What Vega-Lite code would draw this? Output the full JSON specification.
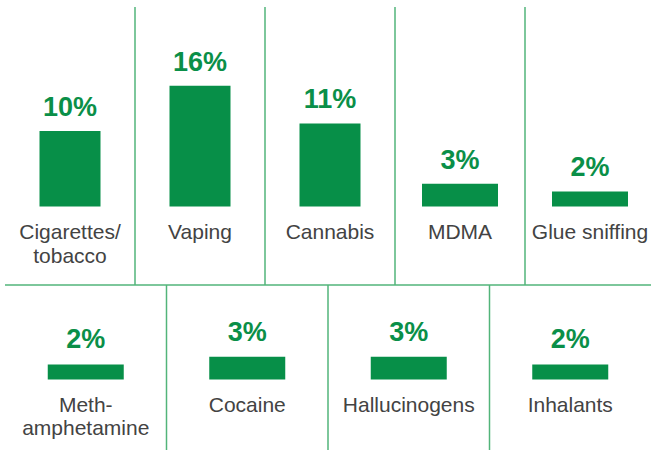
{
  "$schema": "https://vega.github.io/schema/vega-lite/v6.json",
  "padding": {"left": 4, "right": -3, "top": 0, "bottom": 0},
  "spacing": 0,
  "bounds": "flush",
  "config": {"view": {"stroke": null}},
  "vconcat": [
    {
      "width": 650,
      "height": 285,
      "data": {"values": [
        {"cat": "Cigarettes/tobacco", "label": "Cigarettes/\ntobacco", "pct": 10},
        {"cat": "Vaping", "label": "Vaping", "pct": 16},
        {"cat": "Cannabis", "label": "Cannabis", "pct": 11},
        {"cat": "MDMA", "label": "MDMA", "pct": 3},
        {"cat": "Glue sniffing", "label": "Glue sniffing", "pct": 2}
      ]},
      "transform": [{"calculate": "format(datum.pct, '.0f') + '%'", "as": "pctText"}],
      "encoding": {
        "y": {"type": "quantitative", "axis": null,
              "scale": {"domain": [-10.4, 27.35], "nice": false, "zero": false}}
      },
      "layer": [
        {
          "transform": [{"filter": {"field": "cat", "oneOf": ["Cigarettes/tobacco", "Vaping", "Cannabis"]}}],
          "mark": {"type": "bar", "width": 61, "color": "#078f48"},
          "encoding": {
            "x": {"field": "cat", "type": "nominal", "sort": null, "axis": null,
                  "scale": {"domain": ["Cigarettes/tobacco", "Vaping", "Cannabis", "MDMA", "Glue sniffing"], "paddingInner": 0, "paddingOuter": 0}},
            "y": {"field": "pct", "type": "quantitative"}, "y2": {"datum": 0}}
        },
        {
          "transform": [{"filter": {"field": "cat", "oneOf": ["MDMA", "Glue sniffing"]}}],
          "mark": {"type": "bar", "width": 76, "color": "#078f48"},
          "encoding": {
            "x": {"field": "cat", "type": "nominal", "sort": null},
            "y": {"field": "pct", "type": "quantitative"}, "y2": {"datum": 0}}
        },
        {
          "mark": {"type": "text", "font": "Liberation Sans", "fontWeight": "bold", "fontSize": 27,
                   "color": "#0a8f48", "baseline": "alphabetic", "dy": -15},
          "encoding": {
            "x": {"field": "cat", "type": "nominal", "sort": null},
            "y": {"field": "pct", "type": "quantitative"},
            "text": {"field": "pctText", "type": "nominal"}}
        },
        {
          "mark": {"type": "text", "font": "Liberation Sans", "fontSize": 21, "color": "#434343",
                   "baseline": "alphabetic", "dy": 33, "lineBreak": "\n", "lineHeight": 24},
          "encoding": {
            "x": {"field": "cat", "type": "nominal", "sort": null},
            "y": {"datum": 0}, "text": {"field": "label"}}
        },
        {
          "transform": [{"filter": {"not": {"field": "cat", "equal": "Cigarettes/tobacco"}}}],
          "mark": {"type": "rule", "color": "#52b47a", "strokeWidth": 1.5},
          "encoding": {
            "x": {"field": "cat", "type": "nominal", "sort": null, "bandPosition": 0},
            "y": {"datum": 26.42},
            "y2": {"datum": -10.4}
          }
        },
        {
          "data": {"values": [{"k": 1}]},
          "mark": {"type": "rule", "color": "#52b47a", "strokeWidth": 1.5},
          "encoding": {"y": {"datum": -10.4}}
        }
      ]
    },
    {
      "width": 646,
      "height": 165,
      "data": {"values": [
        {"cat": "Methamphetamine", "label": "Meth-\namphetamine", "pct": 2},
        {"cat": "Cocaine", "label": "Cocaine", "pct": 3},
        {"cat": "Hallucinogens", "label": "Hallucinogens", "pct": 3},
        {"cat": "Inhalants", "label": "Inhalants", "pct": 2}
      ]},
      "transform": [{"calculate": "format(datum.pct, '.0f') + '%'", "as": "pctText"}],
      "encoding": {
        "x": {"field": "cat", "type": "nominal", "sort": null, "axis": null,
              "scale": {"paddingInner": 0, "paddingOuter": 0}},
        "y": {"type": "quantitative", "axis": null,
              "scale": {"domain": [-9.34, 12.52], "nice": false, "zero": false}}
      },
      "layer": [
        {
          "mark": {"type": "bar", "width": 76, "color": "#078f48"},
          "encoding": {"y": {"field": "pct", "type": "quantitative"}, "y2": {"datum": 0}}
        },
        {
          "mark": {"type": "text", "font": "Liberation Sans", "fontWeight": "bold", "fontSize": 27,
                   "color": "#0a8f48", "baseline": "alphabetic", "dy": -16},
          "encoding": {"y": {"field": "pct", "type": "quantitative"},
                       "text": {"field": "pctText", "type": "nominal"}}
        },
        {
          "mark": {"type": "text", "font": "Liberation Sans", "fontSize": 21, "color": "#434343",
                   "baseline": "alphabetic", "dy": 32, "lineBreak": "\n", "lineHeight": 23},
          "encoding": {"y": {"datum": 0}, "text": {"field": "label"}}
        },
        {
          "transform": [{"filter": {"not": {"field": "cat", "equal": "Methamphetamine"}}}],
          "mark": {"type": "rule", "color": "#52b47a", "strokeWidth": 1.5},
          "encoding": {
            "x": {"field": "cat", "type": "nominal", "sort": null, "bandPosition": 0},
            "y": {"datum": 12.52},
            "y2": {"datum": -9.34}
          }
        }
      ]
    }
  ]
}
